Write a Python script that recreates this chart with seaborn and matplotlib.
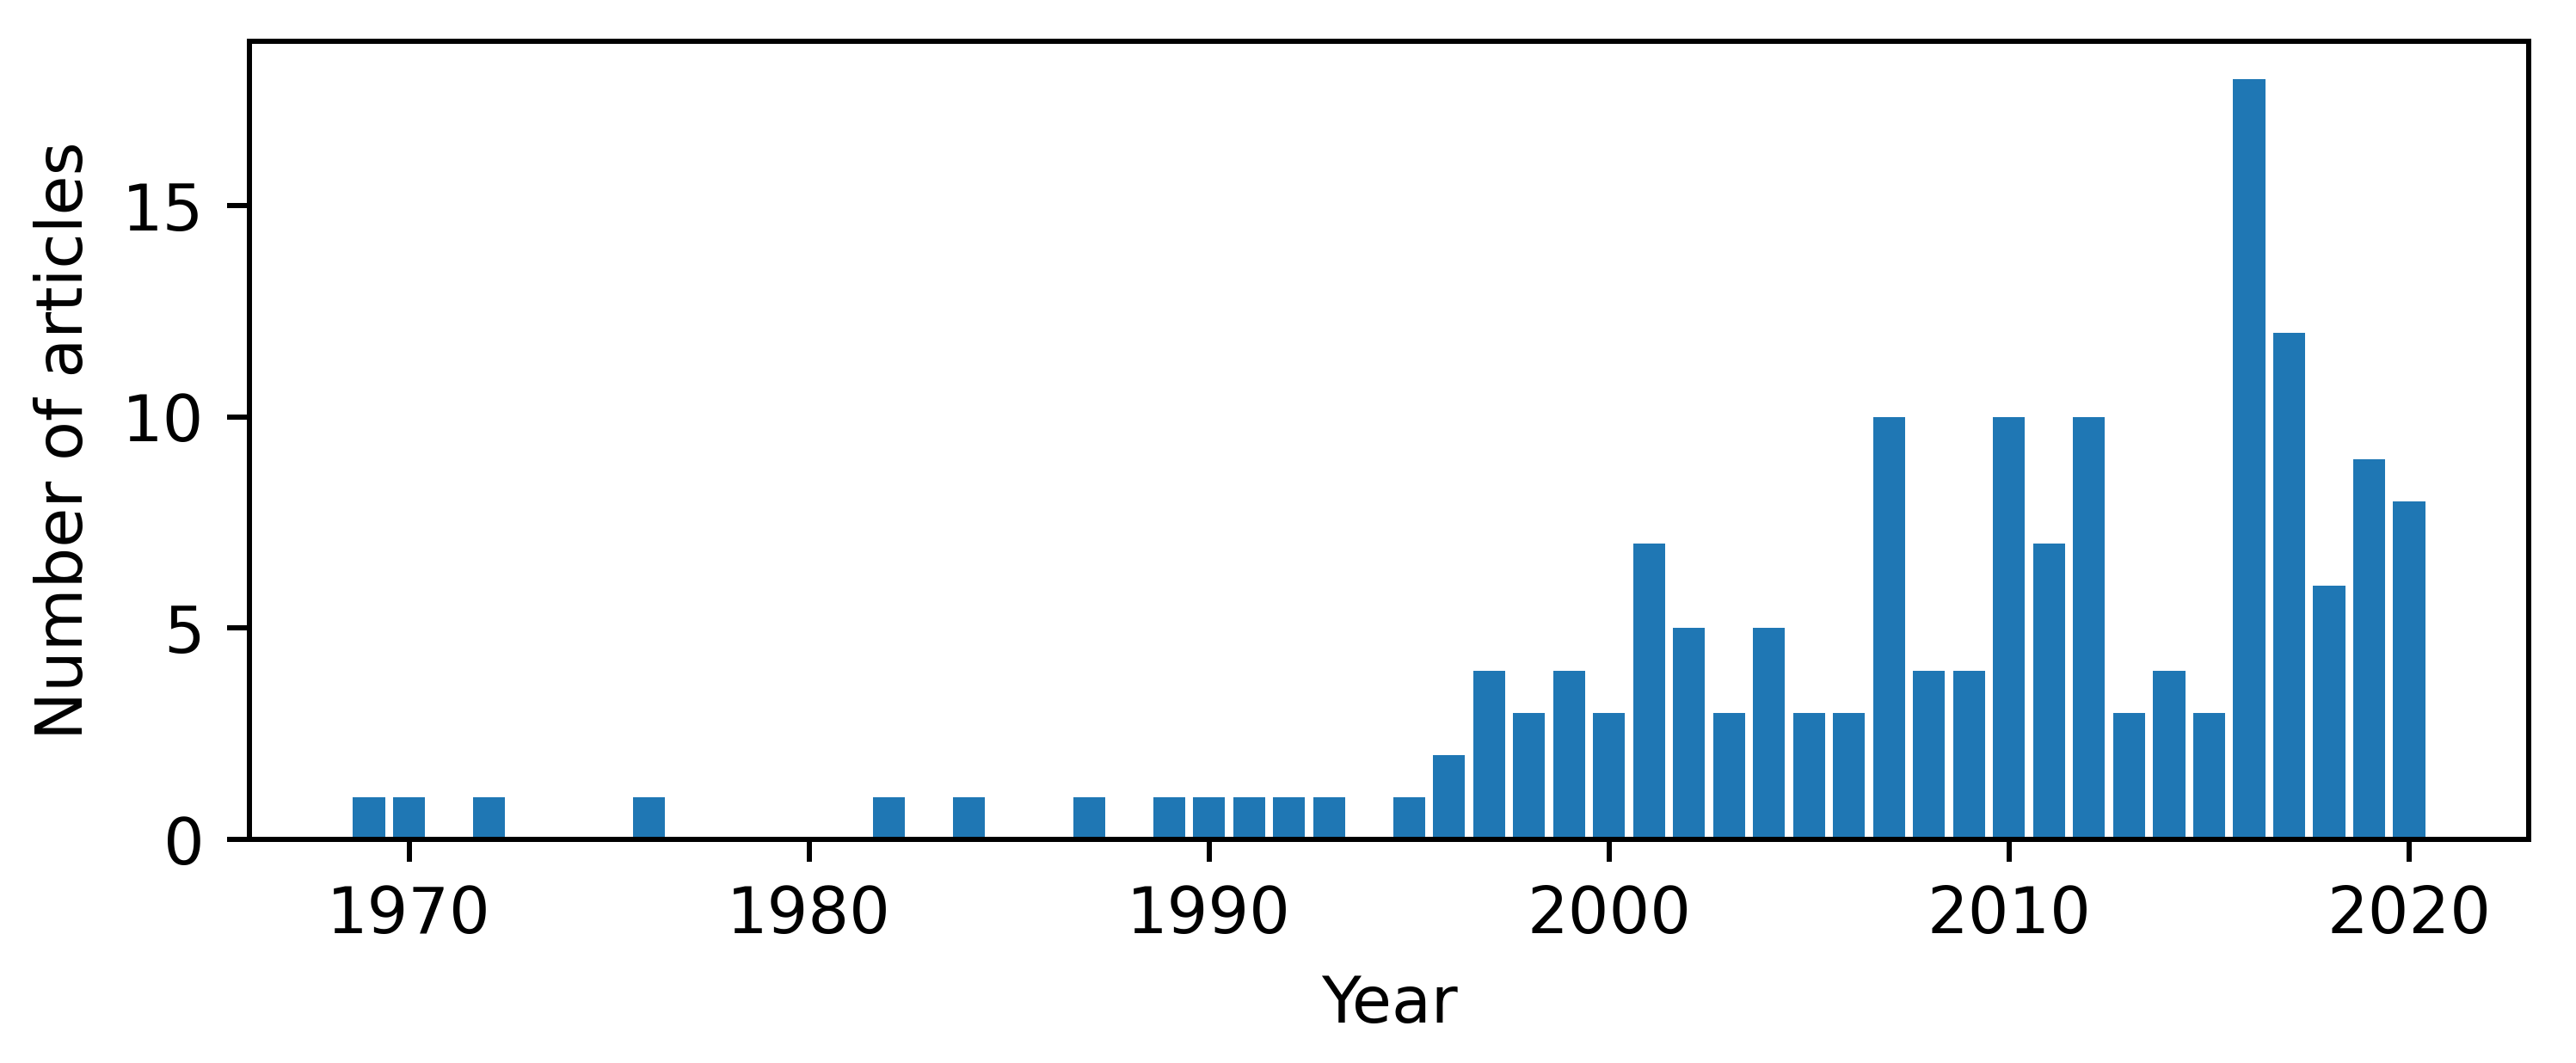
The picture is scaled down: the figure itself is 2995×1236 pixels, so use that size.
import pandas as pd
import matplotlib
matplotlib.use("Agg")
import matplotlib.pyplot as plt
import seaborn as sns

# articles per year
years = [1969, 1970, 1972, 1976, 1982, 1984, 1987, 1989, 1990, 1991,
         1992, 1993, 1995, 1996, 1997, 1998, 1999, 2000, 2001, 2002,
         2003, 2004, 2005, 2006, 2007, 2008, 2009, 2010, 2011, 2012,
         2013, 2014, 2015, 2016, 2017, 2018, 2019, 2020]
counts = [1, 1, 1, 1, 1, 1, 1, 1, 1, 1,
          1, 1, 1, 2, 4, 3, 4, 3, 7, 5,
          3, 5, 3, 3, 10, 4, 4, 10, 7, 10,
          3, 4, 3, 18, 12, 6, 9, 8]

df = pd.DataFrame({"year": years, "articles": counts})

dpi = 540
fig = plt.figure(figsize=(2995 / dpi, 1236 / dpi), dpi=dpi)
ax = fig.add_axes([290 / 2995, 1 - 976 / 1236, (2940 - 290) / 2995, (976 - 48) / 1236])

sns.barplot(data=df, x="year", y="articles", native_scale=True,
            color="#1f77b4", saturation=1, errorbar=None, ax=ax)

ax.set_xlabel("Year")
ax.set_ylabel("Number of articles")
ax.set_yticks([0, 5, 10, 15])

fig.savefig("out.png", dpi=dpi)
